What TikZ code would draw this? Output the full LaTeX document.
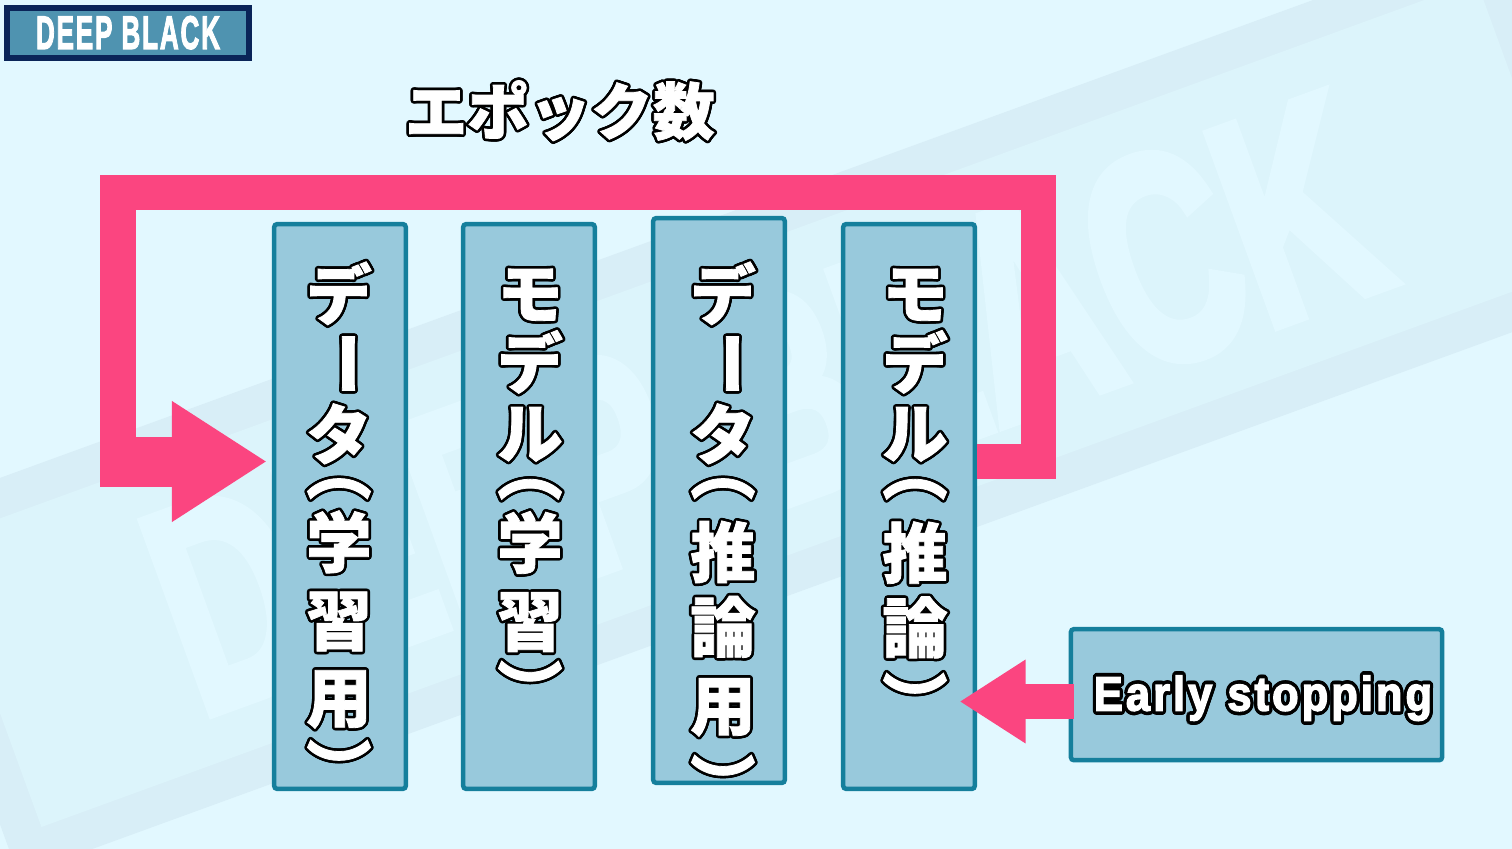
\documentclass[tikz,border=0pt]{standalone}
\usepackage{fontspec}
\usepackage{graphicx}
\usepackage[copies]{contour}
\usepackage{tikz}
\usetikzlibrary{arrows.meta}
\newfontfamily\cjk[FakeBold=1.2]{Noto Sans CJK JP}
\newfontfamily\impactf[FakeBold=4]{Liberation Sans}
\newfontfamily\impactw[FakeBold=3,LetterSpace=7]{Liberation Sans}
\definecolor{pagebg}{HTML}{E2F8FF}
\definecolor{wmband}{HTML}{D8EEF7}
\definecolor{wmfill}{HTML}{DCF4FB}
\definecolor{boxfill}{HTML}{98C9DC}
\definecolor{boxline}{HTML}{157F9C}
\definecolor{pinkline}{HTML}{FB4580}
\definecolor{logonavy}{HTML}{0A2458}
\definecolor{logofill}{HTML}{4F93B0}
\contourlength{0.75pt}
\newcommand{\ol}[1]{\contour{black}{#1}}
\newcommand{\up}[1]{\contour{black}{\rotatebox[origin=c]{-90}{#1}}}
\newcommand{\dash}{\contour{black}{\raisebox{2.8pt}{\rotatebox[origin=c]{-90}{ー}}}}
\newcommand{\tatefont}{\cjk\bfseries\fontsize{18.6}{19.9}\selectfont\lineskiplimit=-100pt\relax}
\tikzstyle{stepbox}=[draw=boxline, fill=boxfill, line width=.045cm, rounded corners=.03cm, minimum width=1.315cm, minimum height=5.645cm, inner sep=0pt]
\tikzstyle{tate}=[text=white, align=center, inner sep=0pt, anchor=north, font=\tatefont]
\tikzstyle{looparrow}=[draw=pinkline, line width=.35cm, -{Triangle[length=.95cm,width=1.14cm]}]
\tikzstyle{stoparrow}=[draw=pinkline, line width=.35cm, -{Triangle[length=.66cm,width=.79cm]}]

\begin{document}
\begin{tikzpicture}[x=.01cm, y=-.01cm]
	\useasboundingbox (0, 0) rectangle (1512, 849);
	\clip (0, 0) rectangle (1512, 849);
	\begin{scope}
		\fill[pagebg] (0, 0) rectangle (1512, 849);
		\node (band) at (759, 404)[fill=wmband, rotate=20, minimum width=17.13cm, minimum height=3.8cm] {};
		\node (inner) at (759, 404)[fill=wmfill, rotate=20, minimum width=16.37cm, minimum height=3.04cm] {};
		\node (mark) at (764, 404)[rotate=20, text=pagebg, inner sep=0pt] {\resizebox{12.75cm}{2.05cm}{\impactf\bfseries DEEP BLACK}};
	\end{scope}
	\begin{scope}
		\node (logo) at (128, 32.7)[draw=logonavy, fill=logofill, line width=.06cm, minimum width=2.42cm, minimum height=.5cm, inner sep=0pt, text=white] {\resizebox{1.84cm}{.327cm}{\impactw\bfseries DEEP BLACK}};
		\node (epoch) at (560, 112)[text=white, inner sep=0pt, font=\cjk\bfseries\fontsize{17.6}{20}\selectfont] {\ol{エポック数}};
		\node (train) at (340, 506.5)[stepbox] {};
		\node (model) at (529, 506.5)[stepbox] {};
		\node (test) at (719, 500.5)[stepbox] {};
		\node (infer) at (909, 506.5)[stepbox] {};
		\node (early) at (1256.5, 694.7)[stepbox, minimum width=3.71cm, minimum height=1.31cm] {};
		\node (earlytext) at (1263, 700)[text=white, inner sep=0pt] {\resizebox{3.38cm}{.35cm}{\contour{black}{\impactw\bfseries Early stopping}}};
		\node (t1) at (339, 261)[tate] {\ol{デ}\\\dash\\\ol{タ}\\[-10pt]\up{（}\\[.85pt]\ol{学}\\[2.3pt]\ol{習}\\[2pt]\ol{用}\\[.8pt]\up{）}};
		\node (t2) at (530, 268)[tate] {\ol{モ}\\\ol{デ}\\\ol{ル}\\[-9.4pt]\up{（}\\[.85pt]\ol{学}\\[2.3pt]\ol{習}\\\up{）}};
		\node (t3) at (723, 261)[tate] {\ol{デ}\\\dash\\\ol{タ}\\[-10pt]\up{（}\\[3.7pt]\ol{推}\\[1.4pt]\ol{論}\\[2.3pt]\ol{用}\\[2.8pt]\up{）}};
		\node (t4) at (915, 268)[tate] {\ol{モ}\\\ol{デ}\\\ol{ル}\\[-9.4pt]\up{（}\\[3.7pt]\ol{推}\\[1.4pt]\ol{論}\\[1.5pt]\up{）}};
		\coordinate (loopin) at (118, 461.5);
		\coordinate (loopout) at (1038.5, 461.5);
		\coordinate (looptop) at (0, 192.5);
		\coordinate (stubend) at (172, 461.7);
		\coordinate (stubstart) at (100, 461.7);
		\coordinate (stopy) at (0, 701.5);
	\end{scope}
	\begin{scope}
		\draw[draw=pinkline, line width=.5cm] (stubstart) -- (stubend);
		\draw[looparrow, shorten >=.05cm] (infer.east |- loopout) -- (loopout) -- (loopout |- looptop) -- (loopin |- looptop) -- (loopin) -- (train.west |- loopin);
		\draw[stoparrow, shorten <=-.05cm, shorten >=-.175cm] (early.west |- stopy) -- (infer.east |- stopy);
	\end{scope}
\end{tikzpicture}
\end{document}
